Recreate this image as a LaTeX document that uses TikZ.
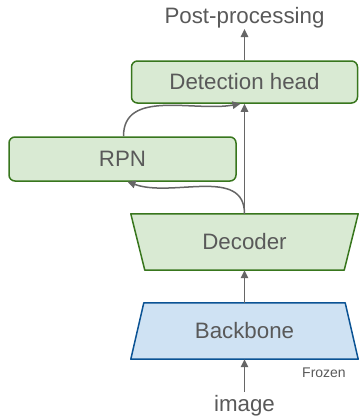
\documentclass[tikz,border=0pt]{standalone}
\usepackage{fontspec}
\setmainfont{Liberation Sans}
\usetikzlibrary{arrows.meta,backgrounds}
\definecolor{gfill}{HTML}{D9EAD3}
\definecolor{gdraw}{HTML}{38761D}
\definecolor{bfill}{HTML}{CFE2F3}
\definecolor{bdraw}{HTML}{0B5394}
\definecolor{txt}{HTML}{595959}
\definecolor{arr}{HTML}{666666}
\tikzset{
  gbox/.style={draw=gdraw,fill=gfill,line width=1.5pt,rounded corners=6pt,text=txt,font=\fontsize{22.3}{25}\selectfont},
  shapebox/.style={text=txt,font=\fontsize{22.3}{25}\selectfont},
  lbl/.style={text=txt,font=\fontsize{22.3}{25}\selectfont},
  conn/.style={draw=arr,line width=1.5pt,-{Triangle[length=8pt,width=7.5pt]}}
}
\begin{document}
\begin{tikzpicture}[x=1pt,y=1pt]
\useasboundingbox (0,0) rectangle (362,-416);
\node[gbox,minimum width=226pt,minimum height=42pt,inner sep=0pt] (det) at (244.5,-82) {Detection head};
\node[gbox,minimum width=227pt,minimum height=44pt,inner sep=0pt] (rpn) at (122.5,-159) {RPN};
\node[shapebox,minimum width=227pt,minimum height=56pt,inner sep=0pt] (dec) at (244.5,-242) {Decoder};
\node[shapebox,minimum width=227pt,minimum height=56pt,inner sep=0pt] (bb) at (244.5,-331) {Backbone};
\begin{pgfonlayer}{background}
\draw[draw=gdraw,fill=gfill,line width=1.5pt,line join=round] (dec.north west) -- (dec.north east) -- ([xshift=-14pt]dec.south east) -- ([xshift=14pt]dec.south west) -- cycle;
\draw[draw=bdraw,fill=bfill,line width=1.5pt,line join=round] ([xshift=13pt]bb.north west) -- ([xshift=-13pt]bb.north east) -- (bb.south east) -- (bb.south west) -- cycle;
\end{pgfonlayer}
\node[lbl,anchor=base] (post) at (244.5,-23) {Post-processing};
\node[lbl,anchor=base] (img) at (244.5,-411) {image};
\node[text=txt,font=\fontsize{14}{16}\selectfont,anchor=base] (frz) at (324,-377) {Frozen};
\coordinate (postb) at (244.5,-29);
\coordinate (imgt) at (244.5,-392);
\draw[conn] (det.north) -- (postb);
\draw[conn] (imgt) -- (bb.south);
\draw[conn] (bb.north) -- (dec.south);
\draw[conn] (dec.north) -- (det.south);
\draw[conn] (dec.north) to[out=90,in=-20] ([xshift=5pt]rpn.south);
\draw[conn] ([xshift=1pt]rpn.north) to[out=90,in=190] ([xshift=-4pt]det.south);
\end{tikzpicture}
\end{document}
